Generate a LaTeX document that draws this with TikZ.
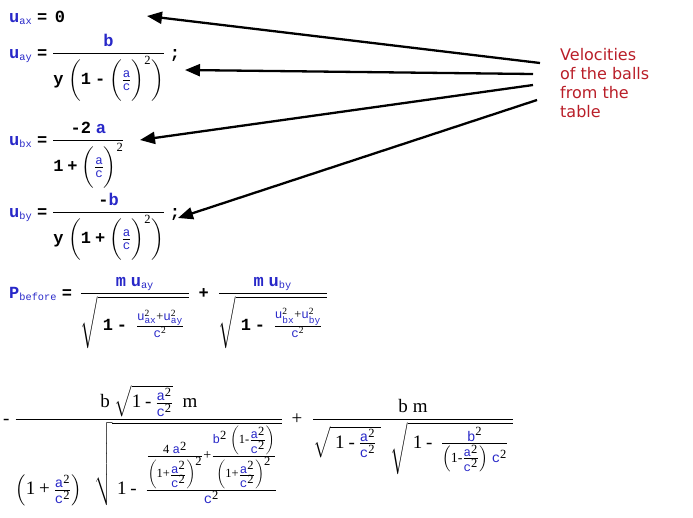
\documentclass[tikz,border=0pt]{standalone}
\usepackage{amsmath}
\usepackage{fontspec}
\usetikzlibrary{arrows.meta}
\newfontfamily\eqfont{Liberation Mono}
\newfontfamily\outfont{Liberation Serif}
\newfontfamily\notefont{DejaVu Sans}
\definecolor{varblue}{RGB}{40,40,200}
\definecolor{notered}{RGB}{185,30,40}
\DeclareMathSizes{17}{17}{12.5}{9.5}
\DeclareMathSizes{19}{19}{14}{12.5}
% bold input cells and plain output cells
\newcommand{\vb}[1]{\text{\eqfont\bfseries\color{varblue}#1}}
\newcommand{\nb}[1]{\text{\eqfont\bfseries #1}}
\newcommand{\vr}[1]{\text{\eqfont\color{varblue}#1}}
\newcommand{\nr}[1]{\text{\outfont #1}}
\newcommand{\vo}[1]{\text{\eqfont\color{varblue}#1}}
\newcommand{\low}[1]{_{\mbox{\eqfont\fontsize{10.3}{12}\selectfont\color{varblue}#1}}}
\newcommand{\ac}{\frac{\vo{a}^{\nr{2}}}{\vo{c}^{\nr{2}}}}
\newcommand{\tallroot}{\rule[-14pt]{0pt}{42pt}}

\begin{document}
\begin{tikzpicture}[x=1pt,y=-1pt,
    eqn/.style={anchor=base west,inner sep=0pt,font=\fontsize{17}{19}\selectfont},
    outeqn/.style={anchor=base west,inner sep=0pt,font=\fontsize{19}{21}\selectfont},
    pointer/.style={line width=2.3pt,-{Triangle[length=15pt,width=12pt]}}]
    \useasboundingbox (0,0) rectangle (693,517);

    \node[eqn] (uax) at (9,22) {$\vb{u}\low{ax}\mathrel{\nb{=}}\,\nb{0}$};
    \node[eqn] (uay) at (9,58) {$\displaystyle \vb{u}\low{ay}\mathrel{\nb{=}}
        \frac{\vb{b}}{\nb{y}\;\biggl(\nb{1}\mathbin{\nb{-}}\biggl(\frac{\vr{a}}{\vr{c}}\biggr)^{\nr{2}}\biggr)}\;\nb{;}$};
    \node[eqn] (ubx) at (9,145) {$\displaystyle \vb{u}\low{bx}\mathrel{\nb{=}}
        \frac{\nb{-2}\;\vb{a}}{\nb{1}\mathbin{\nb{+}}\biggl(\frac{\vr{a}}{\vr{c}}\biggr)^{\nr{2}}}$};
    \node[eqn] (uby) at (9,217) {$\displaystyle \vb{u}\low{by}\mathrel{\nb{=}}
        \frac{\nb{-}\vb{b}}{\nb{y}\;\biggl(\nb{1}\mathbin{\nb{+}}\biggl(\frac{\vr{a}}{\vr{c}}\biggr)^{\nr{2}}\biggr)}\;\nb{;}$};
    \node[eqn] (pbefore) at (9,298) {$\displaystyle \vb{P}\low{before}\mathrel{\nb{=}}\,
        \frac{\vb{m}\;\vb{u}\low{ay}}{\sqrt{\tallroot\;\nb{1}\mathbin{\nb{-}}\;\frac{\vr{u}^{\nr{2}}_{\vr{ax}}\mathbin{\nr{+}}\vr{u}^{\nr{2}}_{\vr{ay}}}{\vr{c}^{\nr{2}}}\;}}
        \;\mathbin{\nb{+}}\;
        \frac{\vb{m}\;\vb{u}\low{by}}{\sqrt{\tallroot\;\nb{1}\mathbin{\nb{-}}\;\frac{\vr{u}^{\nr{2}}_{\vr{bx}}\mathbin{\nr{+}}\vr{u}^{\nr{2}}_{\vr{by}}}{\vr{c}^{\nr{2}}}\;}}$};

    \node[outeqn] (pfirst) at (3,424) {$\displaystyle \nr{-}\;
        \frac{\nr{b}\;\sqrt{\nr{1}\mathbin{\nr{-}}\ac}\;\;\nr{m}}
        {\left(\nr{1}\mathbin{\nr{+}}\ac\right)\;\;\sqrt{\;\nr{1}\mathbin{\nr{-}}\;
        \frac{\frac{\nr{4}\;\vo{a}^{\nr{2}}}{\left(\nr{1}\mathbin{\nr{+}}\ac\right)^{\nr{2}}}\mathbin{\nr{+}}
        \frac{\vo{b}^{\nr{2}}\;\left(\nr{1}\mathbin{\nr{-}}\ac\right)}{\left(\nr{1}\mathbin{\nr{+}}\ac\right)^{\nr{2}}}}{\vo{c}^{\nr{2}}}\;}}$};
    \node[outeqn] (psecond) at ([xshift=8pt]pfirst.base east) {$\displaystyle \nr{+}\;\;
        \frac{\nr{b}\;\nr{m}}{\sqrt{\;\nr{1}\mathbin{\nr{-}}\ac\;}\;\;\sqrt{\;\nr{1}\mathbin{\nr{-}}\;
        \frac{\vo{b}^{\nr{2}}}{\left(\nr{1}\mathbin{\nr{-}}\ac\right)\;\vo{c}^{\nr{2}}}\;}}$};

    \node[anchor=north west,inner sep=0pt,align=left,text=notered,
        font=\notefont\fontsize{16}{19}\selectfont] (note) at (560,48.5)
        {Velocities\\of the balls\\from the\\table};

    % arrows from the note to the velocities
    \coordinate (tax) at (147,16);
    \coordinate (tay) at (185,70);
    \coordinate (tbx) at (140,140);
    \coordinate (tby) at (178,218);
    \draw[pointer] ([xshift=-20pt,yshift=-14.5pt]note.north west) -- (tax);
    \draw[pointer] ([xshift=-27pt,yshift=-25.5pt]note.north west) -- (tay);
    \draw[pointer] ([xshift=-27pt,yshift=-36.5pt]note.north west) -- (tbx);
    \draw[pointer] ([xshift=-23pt,yshift=-51.5pt]note.north west) -- (tby);
\end{tikzpicture}
\end{document}
